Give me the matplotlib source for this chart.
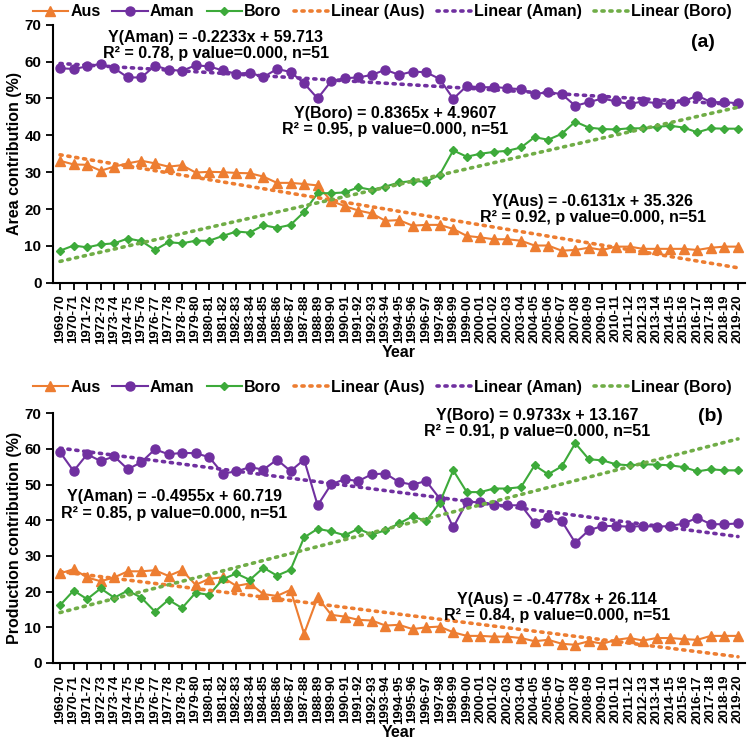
import numpy as np
import matplotlib
matplotlib.use("Agg")
import matplotlib.pyplot as plt

plt.rcParams['font.family'] = ['Liberation Sans', 'DejaVu Sans']
plt.rcParams['font.weight'] = 'bold'

years = [f"{y}-{str(y + 1)[-2:]}" for y in range(1969, 2020)]

# Area contribution (%) - panel (a)
aus_area = [33.1, 32.1, 32.0, 30.4, 31.5, 32.4, 33.1, 32.4, 31.5, 31.9,
            29.9, 30.1, 30.0, 29.8, 29.7, 28.8, 27.1, 27.1, 26.8, 26.4,
            22.2, 20.8, 19.6, 18.8, 16.8, 17.0, 15.5, 15.7, 15.7, 14.6,
            12.7, 12.3, 11.8, 11.8, 11.4, 10.1, 10.1, 8.7, 8.9, 9.5,
            8.9, 9.8, 9.8, 9.2, 9.2, 9.2, 9.2, 8.9, 9.5, 9.8, 9.8]
aman_area = [58.2, 58.0, 58.7, 59.4, 58.2, 55.7, 55.7, 58.9, 57.8, 57.5,
             59.0, 58.7, 57.6, 56.7, 57.0, 55.8, 58.0, 57.2, 54.1, 50.0,
             54.7, 55.5, 55.7, 56.4, 57.8, 56.4, 57.3, 57.1, 55.3, 49.9,
             53.4, 53.0, 53.1, 52.8, 52.5, 51.2, 51.7, 51.2, 48.0, 49.0,
             50.0, 49.2, 48.5, 49.2, 48.7, 48.5, 49.2, 50.8, 49.0, 49.0, 48.7]
boro_area = [8.7, 10.1, 9.6, 10.4, 10.7, 12.0, 11.3, 8.9, 11.0, 10.7,
             11.4, 11.4, 12.7, 13.9, 13.6, 15.6, 14.9, 15.7, 19.2, 24.3,
             24.3, 24.5, 25.9, 25.2, 26.1, 27.2, 27.6, 27.4, 29.3, 35.9,
             34.2, 35.0, 35.5, 35.8, 36.7, 39.5, 38.8, 40.4, 43.7, 42.1,
             41.7, 41.6, 41.9, 41.9, 42.3, 42.6, 42.1, 40.8, 41.9, 41.8, 41.8]

# Production contribution (%) - panel (b)
aus_prod = [25.1, 26.3, 24.0, 22.9, 24.0, 25.7, 25.7, 26.0, 24.4, 26.0,
            21.9, 23.6, 24.0, 21.6, 22.3, 19.3, 18.8, 20.5, 8.2, 18.4,
            13.5, 13.0, 12.1, 11.9, 10.5, 10.7, 9.5, 10.0, 10.2, 8.6,
            7.6, 7.6, 7.4, 7.4, 7.0, 6.1, 6.5, 5.4, 5.1, 6.1,
            5.4, 6.5, 7.0, 6.3, 7.0, 7.0, 6.7, 6.5, 7.6, 7.6, 7.6]
aman_prod = [59.1, 53.8, 58.5, 56.6, 57.9, 54.3, 56.3, 59.9, 58.5, 58.9,
             58.8, 57.7, 53.1, 53.7, 54.9, 54.2, 57.0, 53.8, 57.0, 44.2,
             50.1, 51.5, 51.0, 52.9, 53.1, 50.7, 50.0, 51.0, 46.1, 38.0,
             45.1, 45.1, 44.4, 44.2, 44.2, 39.3, 41.0, 39.8, 33.7, 37.2,
             38.4, 38.4, 38.2, 38.4, 38.2, 38.4, 39.1, 40.7, 38.9, 38.9, 39.1]
boro_prod = [16.2, 20.3, 17.9, 20.9, 18.3, 20.3, 18.3, 14.4, 17.7, 15.4,
             19.7, 19.1, 23.5, 25.1, 23.3, 26.7, 24.5, 26.1, 35.2, 37.6,
             36.9, 35.8, 37.6, 36.0, 37.2, 39.1, 41.1, 39.8, 44.9, 54.0,
             47.9, 47.9, 48.9, 48.9, 49.3, 55.4, 52.9, 55.1, 61.6, 57.1,
             56.8, 55.7, 55.4, 55.7, 55.6, 55.4, 54.9, 53.7, 54.3, 54.0, 54.0]

# trend coefficients (slope, intercept, R2) from the fitted equations
fit_area = {'Aus': (-0.6131, 35.326, 0.92), 'Aman': (-0.2233, 59.713, 0.78),
            'Boro': (0.8365, 4.9607, 0.95)}
fit_prod = {'Aus': (-0.4778, 26.114, 0.84), 'Aman': (-0.4955, 60.719, 0.85),
            'Boro': (0.9733, 13.167, 0.91)}

colors = {'Aus': '#ED7D31', 'Aman': '#7030A0', 'Boro': '#3DAA3A'}
trend_colors = {'Aus': '#ED7D31', 'Aman': '#7030A0', 'Boro': '#70AD47'}
markers = {'Aus': ('^', 7), 'Aman': ('o', 6.5), 'Boro': ('D', 4.5)}

fig = plt.figure(figsize=(7.5, 7.5), dpi=100)
ax_a = fig.add_axes([0.071, 0.623, 0.922, 0.344])
ax_b = fig.add_axes([0.071, 0.116, 0.922, 0.333])

x = np.arange(len(years))
t = x + 1

def draw(ax, data, fits, ylabel, tag, tagpos, legy, eqs):
    for name, vals in data.items():
        m, ms = markers[name]
        ax.plot(x, vals, color=colors[name], lw=1.5, marker=m, ms=ms,
                label=name)
    for name in data:
        a, b, r2 = fits[name]
        ax.plot(x, a * t + b, color=trend_colors[name], lw=2.6,
                ls=(0, (0.6, 1.6)), dash_capstyle='round',
                label=f"Linear ({name})")
    ax.set_xlim(-0.5, len(years) - 0.5)
    ax.set_ylim(0, 70)
    ax.set_yticks(range(0, 71, 10))
    ax.set_xticks(x)
    ax.set_xticklabels(years, rotation=90, fontsize=9.5, fontweight='bold')
    ax.tick_params(axis='y', labelsize=11, width=1.3, length=5)
    ax.tick_params(axis='x', width=1.3, length=5)
    for s in ['top', 'right']:
        ax.spines[s].set_visible(False)
    for s in ['left', 'bottom']:
        ax.spines[s].set_linewidth(1.5)
    ax.set_ylabel(ylabel, fontsize=11.5, fontweight='bold', labelpad=2)
    ax.set_xlabel("Year", fontsize=11.5, fontweight='bold', labelpad=1)
    ax.legend(loc='center', bbox_to_anchor=(0.476, legy), ncol=6,
              frameon=False, fontsize=11.5, handlelength=2.2,
              handletextpad=0.15, columnspacing=0.75, borderaxespad=0,
              borderpad=0)
    ax.text(tagpos[0], tagpos[1], tag, transform=ax.transAxes, fontsize=14,
            fontweight='bold', ha='center', va='center')
    for name, (xf, yf) in eqs.items():
        a, b, r2 = fits[name]
        sign = '+' if b >= 0 else '-'
        txt = (f"Y({name}) = {a}x {sign} {abs(b)}\n"
               f"R\u00b2 = {r2:.2f}, p value=0.000, n=51")
        ax.text(xf, yf, txt, transform=ax.transAxes, fontsize=11.5,
                fontweight='bold', ha='center', va='top', linespacing=1.1)

draw(ax_a, {'Aus': aus_area, 'Aman': aman_area, 'Boro': boro_area},
     fit_area, "Area contribution (%)", "(a)", (0.94, 0.93), 1.05,
     {'Aman': (0.235, 0.98), 'Boro': (0.495, 0.685), 'Aus': (0.78, 0.345)})
draw(ax_b, {'Aus': aus_prod, 'Aman': aman_prod, 'Boro': boro_prod},
     fit_prod, "Production contribution (%)", "(b)", (0.95, 0.985), 1.104,
     {'Boro': (0.70, 1.02), 'Aman': (0.175, 0.695), 'Aus': (0.728, 0.285)})

fig.savefig("out.png", dpi=100)
